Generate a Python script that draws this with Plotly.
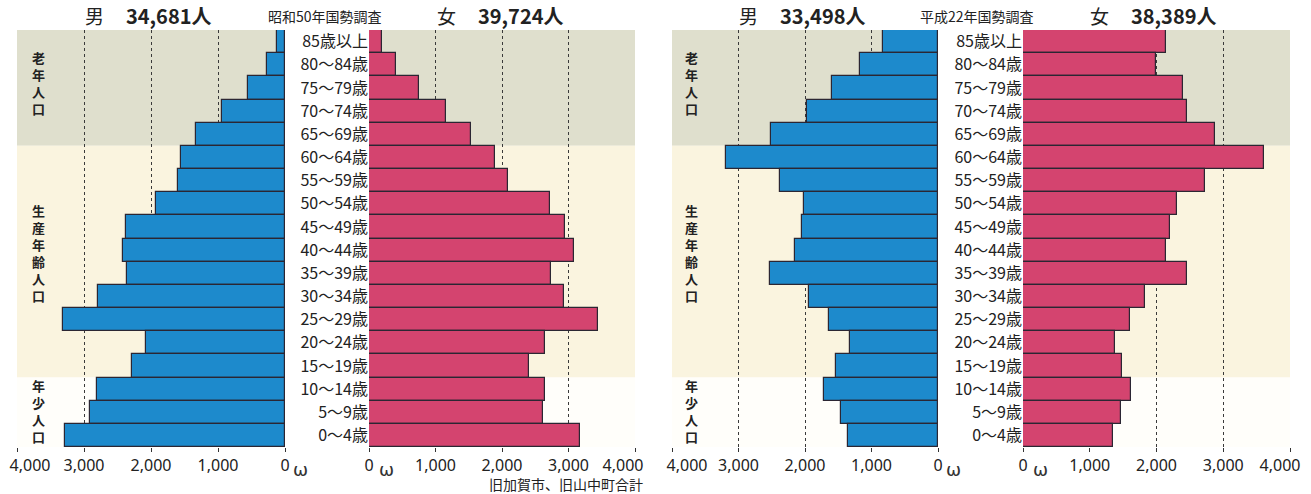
import plotly.graph_objects as go

# Age groups, oldest first (top row of the pyramid)
ages = ["85歳以上", "80〜84歳", "75〜79歳", "70〜74歳", "65〜69歳", "60〜64歳",
        "55〜59歳", "50〜54歳", "45〜49歳", "40〜44歳", "35〜39歳", "30〜34歳",
        "25〜29歳", "20〜24歳", "15〜19歳", "10〜14歳", "5〜9歳", "0〜4歳"]

# 昭和50年国勢調査
male_s50 = [120, 270, 550, 940, 1330, 1550, 1590, 1920, 2380, 2420, 2360, 2790,
            3320, 2075, 2280, 2800, 2910, 3290]
female_s50 = [200, 405, 755, 1165, 1535, 1900, 2095, 2725, 2950, 3080, 2730, 2935,
              3450, 2650, 2405, 2650, 2615, 3175]
male_total_s50 = 34681
female_total_s50 = 39724

# 平成22年国勢調査
male_h22 = [827, 1178, 1592, 1974, 2515, 3185, 2375, 2018, 2051, 2152, 2529, 1937,
            1643, 1318, 1529, 1720, 1464, 1349]
female_h22 = [2147, 1996, 2400, 2463, 2882, 3603, 2723, 2311, 2198, 2147, 2451, 1831,
              1609, 1374, 1481, 1620, 1463, 1344]
male_total_h22 = 33498
female_total_h22 = 38389

tick_vals = [0, 1000, 2000, 3000, 4000]
tick_text = ["0", "1,000", "2,000", "3,000", "4,000"]

# population bands: (label, first row index, last row index, fill)
bands = [("老年人口", 0, 4, "#dfdfcd"),
         ("生産年齢人口", 5, 14, "#faf4df"),
         ("年少人口", 15, 17, "#fffefa")]

W, H = 1311, 494
BLUE = "#1d8acc"
PINK = "#d4446f"
EDGE = "#2b2633"
JP = "Noto Sans CJK JP"
TICK_FONT = dict(family="Noto Sans", size=16, color="#222")


def px_x(p):
    return p / W


def px_y(p):
    return 1 - p / H


def note(x, y, text, size, family=JP, xanchor="center", color="#222"):
    fig.add_annotation(x=px_x(x), y=px_y(y), xref="paper", yref="paper",
                       xanchor=xanchor, yanchor="middle", text=text,
                       showarrow=False,
                       font=dict(family=family, size=size, color=color))


# name: (left px, right px, range, y axis, outer-label shift along the axis)
panels = {
    "x": (17, 285, [4000, 0], "y", -13),
    "x2": (369, 635, [0, 4000], "y", -12),
    "x3": (672, 938, [4000, 0], "y2", -15),
    "x4": (1023, 1290, [0, 4000], "y2", -10),
}

fig = go.Figure()

series = [("x", "y", male_s50, BLUE), ("x2", "y", female_s50, PINK),
          ("x3", "y2", male_h22, BLUE), ("x4", "y2", female_h22, PINK)]
for xa, ya, vals, col in series:
    fig.add_trace(go.Bar(
        x=vals, y=ages, orientation="h", xaxis=xa, yaxis=ya,
        marker=dict(color=col, line=dict(color=EDGE, width=1.2)),
        showlegend=False, hoverinfo="x+y",
    ))

layout = dict(
    width=W, height=H,
    margin=dict(l=0, r=0, t=0, b=0, autoexpand=False),
    paper_bgcolor="white", plot_bgcolor="white",
    bargap=0, showlegend=False,
    font=dict(family=JP, color="#222"),
)

for i, (name, (a, b, rng, ya, shift)) in enumerate(panels.items()):
    key = "xaxis" if name == "x" else "xaxis" + name[1:]
    # main axis: ticks and dotted grid at every 1,000; outer label left blank
    layout[key] = dict(
        domain=[px_x(a), px_x(b)], range=rng, anchor=ya,
        tickvals=tick_vals, ticktext=tick_text[:-1] + [""],
        ticks="outside", ticklen=4, tickcolor="#333", tickfont=TICK_FONT,
        showgrid=True, gridcolor="#3a3a3a", griddash="dot", gridwidth=1,
        zeroline=False, showline=False, fixedrange=True, automargin=False,
    )
    # overlay axis carrying only the outer 4,000 label, nudged inside the page
    okey = "xaxis" + str(5 + i)
    layout[okey] = dict(
        domain=[px_x(a), px_x(b)], range=rng, anchor=ya, overlaying=name,
        tickvals=tick_vals[-1:], ticktext=tick_text[-1:],
        ticks="outside", ticklen=4, tickcolor="rgba(0,0,0,0)",
        tickfont=TICK_FONT, ticklabelshift=shift, ticklabeloverflow="allow",
        showgrid=False, zeroline=False, showline=False, fixedrange=True,
        automargin=False,
    )
    fig.add_trace(go.Scatter(x=[], y=[], xaxis="x" + str(5 + i), yaxis=ya,
                             showlegend=False, hoverinfo="skip"))

ydom = [px_y(447), px_y(30)]
layout["yaxis"] = dict(
    domain=ydom, anchor="x2", side="left", type="category",
    categoryorder="array", categoryarray=ages, range=[17.5, -0.5],
    showgrid=False, zeroline=False, showline=False, ticks="",
    tickfont=dict(family=JP, size=16, color="#222"), fixedrange=True,
    automargin=False,
)
layout["yaxis2"] = dict(layout["yaxis"], anchor="x4")
fig.update_layout(**layout)

# background bands behind each half of both pyramids
for xa, ya in [("x", "y"), ("x2", "y"), ("x3", "y2"), ("x4", "y2")]:
    for _, r0, r1, fill in bands:
        fig.add_shape(type="rect", xref=xa, yref=ya, x0=0, x1=4000,
                      y0=r0 - 0.5, y1=r1 + 0.5, fillcolor=fill,
                      line=dict(width=0), layer="below")

# vertical band labels at the outer left of each pyramid
band_label_y = {"老年人口": 83, "生産年齢人口": 253, "年少人口": 411}
for xc in (38, 691):
    for label, _, _, _ in bands:
        note(xc, band_label_y[label], "<b>" + "<br>".join(label) + "</b>", 13)

# headings
heads = [
    (male_total_s50, female_total_s50, "昭和50年国勢調査", 94, 124, 325, 446, 476),
    (male_total_h22, female_total_h22, "平成22年国勢調査", 748, 778, 977, 1099, 1129),
]
for mt, ft, title, mx, mnx, tx, fx, fnx in heads:
    note(mx, 15, "男", 19)
    note(mnx, 15, f"<b>{mt:,}人</b>", 20, xanchor="left")
    note(tx, 16, title, 14)
    note(fx, 15, "女", 19)
    note(fnx, 15, f"<b>{ft:,}人</b>", 20, xanchor="left")

# small break marks beside the zero ticks
for xc in (300, 386, 953, 1040):
    note(xc, 469, "ω", 18, family="DejaVu Sans", color="#333")

note(645, 484, "旧加賀市、旧山中町合計", 14, xanchor="right")

fig.write_html("out.html")
